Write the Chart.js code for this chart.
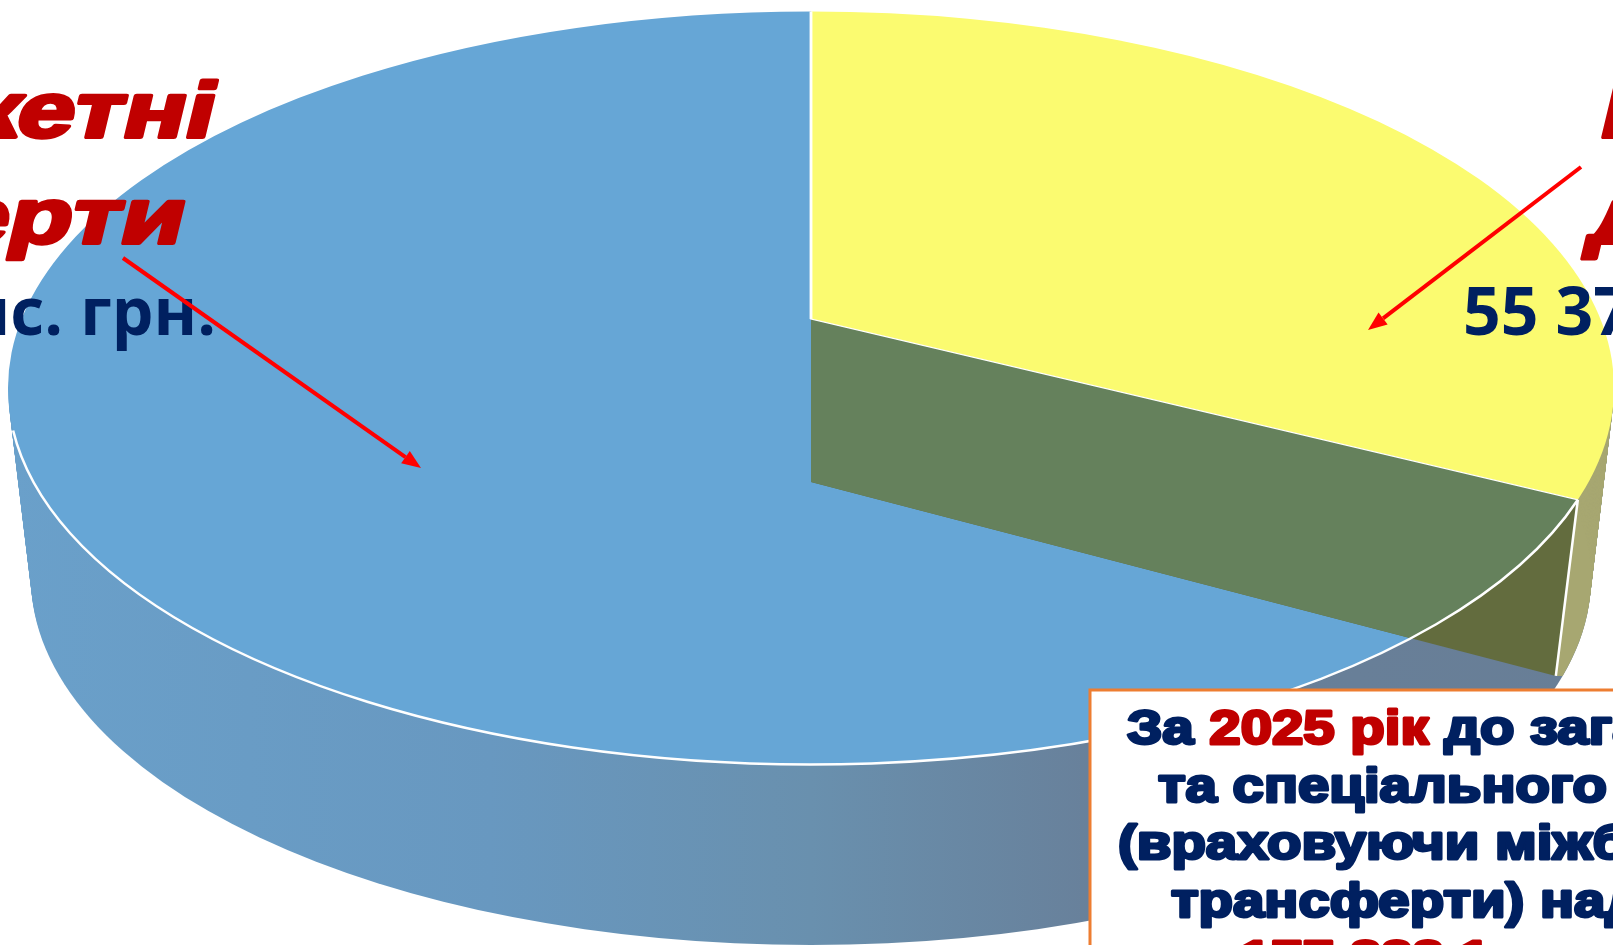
<!DOCTYPE html>
<html>
<head>
<meta charset="utf-8">
<style>
  html, body { margin: 0; padding: 0; background: #fff; overflow: hidden; }
  canvas { display: block; }
</style>
<script src="https://cdn.jsdelivr.net/npm/chart.js@4"></script>
</head>
<body>
<canvas id="pieChart" width="1613" height="945"></canvas>
<script>
// values (thousand UAH)
const sliceLabels = ['Власні доходи', 'Міжбюджетні трансферти'];
const sliceValues = [55378.0, 122510.1];
const sliceColors = ['#FBFB70', '#66A6D6'];

const blueLabelLines = ['Міжбюджетні', 'трансферти'];
const blueAmount = '122 510,1 тис. грн.';
const yellowLabelLines = ['Власні', 'доходи'];
const yellowAmount = '55 378,0 тис. грн.';
const boxLines = [
    [['За ', 'navy'], ['2025 рік', 'red'], [' до загального', 'navy']],
    [['та спеціального фондів', 'navy']],
    [['(враховуючи міжбюджетні', 'navy']],
    [['трансферти) надійшло', 'navy']],
    [['177 888,1', 'red'], [' тис. грн.', 'navy']]
];
const boxLineStarts = [1127, 1158, 1118, 1171, 1240];

const NAVY = '#002060';
const RED = '#C00000';

// the "3d" look: top face, bottom face, and where the wedge tips sit
const topFace = { x: 811, y: 388, rx: 803, ry: 376.5 };
const bottomFace = { x: 811, y: 578, rx: 780, ry: 367 };
const topApex = { x: 811, y: 319 };
const lowerApex = { x: 811, y: 482 };

function facePoint(face, angle) {
    return { x: face.x + face.rx * Math.cos(angle), y: face.y + face.ry * Math.sin(angle) };
}

function facePath(ctx, face) {
    ctx.beginPath();
    ctx.ellipse(face.x, face.y, face.rx, face.ry, 0, 0, Math.PI * 2);
}

function polyPath(ctx, pts) {
    ctx.beginPath();
    pts.forEach(function (p, i) {
        if (i === 0) ctx.moveTo(p.x, p.y); else ctx.lineTo(p.x, p.y);
    });
    ctx.closePath();
}

// starts a little below the top face so its colour does not fringe the rim
function fillHull(ctx, fill) {
    ctx.fillStyle = fill;
    for (let i = 2; i <= 80; i++) {
        const t = i / 80;
        facePath(ctx, {
            x: topFace.x,
            y: topFace.y + (bottomFace.y - topFace.y) * t,
            rx: topFace.rx + (bottomFace.rx - topFace.rx) * t,
            ry: topFace.ry + (bottomFace.ry - topFace.ry) * t
        });
        ctx.fill();
    }
}

function drawLabel(ctx, text, x, y, font, color, align, stretch, strokeWidth, slant) {
    ctx.save();
    ctx.translate(x, y);
    ctx.transform(stretch, 0, -(slant || 0), 1, 0, 0);
    ctx.font = font;
    ctx.textAlign = align;
    ctx.textBaseline = 'alphabetic';
    ctx.lineJoin = 'round';
    if (strokeWidth) {
        ctx.strokeStyle = color;
        ctx.lineWidth = strokeWidth;
        ctx.strokeText(text, 0, 0);
    }
    ctx.fillStyle = color;
    ctx.fillText(text, 0, 0);
    ctx.restore();
}

function drawArrow(ctx, x1, y1, x2, y2) {
    const angle = Math.atan2(y2 - y1, x2 - x1);
    const headLen = 19, headHalf = 7.5;
    const bx = x2 - headLen * Math.cos(angle), by = y2 - headLen * Math.sin(angle);
    ctx.strokeStyle = '#FF0000';
    ctx.lineWidth = 4;
    ctx.beginPath();
    ctx.moveTo(x1, y1);
    ctx.lineTo(bx, by);
    ctx.stroke();
    ctx.fillStyle = '#FF0000';
    ctx.beginPath();
    ctx.moveTo(x2, y2);
    ctx.lineTo(bx - headHalf * Math.sin(angle), by + headHalf * Math.cos(angle));
    ctx.lineTo(bx + headHalf * Math.sin(angle), by - headHalf * Math.cos(angle));
    ctx.closePath();
    ctx.fill();
}

const piePainter = {
    id: 'piePainter',
    beforeDatasetsDraw(chart) {
        const ctx = chart.ctx;
        const arcs = chart.getDatasetMeta(0).data;
        const yellowArc = arcs[0], blueArc = arcs[1];

        // the rim points follow the slice size, shifted a bit for the perspective
        const rimAngle = yellowArc.endAngle - 4.8 * Math.PI / 180;
        const rim = facePoint(topFace, rimAngle);
        const lowerRim = facePoint(bottomFace, rimAngle);
        lowerRim.y -= 11;

        // side wall
        ctx.save();
        const wall = ctx.createLinearGradient(topFace.x - topFace.rx, 0, topFace.x + topFace.rx, 0);
        wall.addColorStop(0, '#6AA0CA');
        wall.addColorStop(0.3, '#6898C0');
        wall.addColorStop(0.5, '#6990AE');
        wall.addColorStop(0.68, '#68809A');
        wall.addColorStop(1, '#687E96');
        fillHull(ctx, wall);
        ctx.restore();

        // outer wall of the yellow slice
        ctx.save();
        polyPath(ctx, [rim, lowerRim, { x: 1700, y: lowerRim.y }, { x: 1700, y: 200 }, { x: rim.x, y: 200 }]);
        ctx.clip();
        fillHull(ctx, '#A7A771');
        ctx.restore();

        // blue top face
        ctx.save();
        ctx.translate(topFace.x, topFace.y);
        ctx.scale(topFace.rx / blueArc.outerRadius, topFace.ry / blueArc.outerRadius);
        ctx.translate(-blueArc.x, -blueArc.y);
        blueArc.draw(ctx);
        ctx.restore();

        // inner face of the yellow slice, seen through the blue
        const innerFace = [topApex, rim, lowerRim, lowerApex];
        ctx.fillStyle = '#636C3E';
        polyPath(ctx, innerFace);
        ctx.fill();
        ctx.save();
        facePath(ctx, topFace);
        ctx.clip();
        ctx.fillStyle = '#65815C';
        polyPath(ctx, innerFace);
        ctx.fill();
        ctx.restore();

        // yellow top face: sector stretched from its own tip, cut to the top ellipse
        ctx.save();
        facePath(ctx, topFace);
        ctx.clip();
        const K = 1.25;
        const R = yellowArc.outerRadius;
        const sx = Math.cos(yellowArc.startAngle), sy = Math.sin(yellowArc.startAngle);
        const ex = Math.cos(yellowArc.endAngle), ey = Math.sin(yellowArc.endAngle);
        const psx = 0, psy = K * (topFace.y - topFace.ry - topApex.y);
        const pex = K * (rim.x - topApex.x), pey = K * (rim.y - topApex.y);
        const det = (sx * ey - ex * sy) * R;
        ctx.translate(topApex.x, topApex.y);
        ctx.transform(
            (psx * ey - pex * sy) / det, (psy * ey - pey * sy) / det,
            (pex * sx - psx * ex) / det, (pey * sx - psy * ex) / det,
            0, 0
        );
        ctx.translate(-yellowArc.x, -yellowArc.y);
        yellowArc.draw(ctx);
        ctx.restore();

        // white edges
        ctx.strokeStyle = '#FFFFFF';
        ctx.lineWidth = 2.5;
        ctx.beginPath();
        ctx.ellipse(topFace.x, topFace.y, topFace.rx, topFace.ry, 0, rimAngle, Math.PI * 0.964);
        ctx.stroke();
        ctx.beginPath();
        ctx.moveTo(rim.x, rim.y);
        ctx.lineTo(lowerRim.x, lowerRim.y);
        ctx.stroke();

        // labels: upright bold sheared, the italic font has cursive cyrillic
        const redFont = 'bold 78px "Liberation Sans"';
        const amountFont = 'bold 66px "Open Sans"';
        drawLabel(ctx, blueLabelLines[0], 210, 137, redFont, RED, 'right', 1.32, 4, 0.24);
        drawLabel(ctx, blueLabelLines[1], 180, 243, redFont, RED, 'right', 1.32, 4, 0.24);
        drawLabel(ctx, blueAmount, 216, 335, amountFont, NAVY, 'right', 1, 0);
        drawLabel(ctx, yellowLabelLines[0], 1597, 137, redFont, RED, 'left', 1.32, 4, 0.24);
        drawLabel(ctx, yellowLabelLines[1], 1586, 243, redFont, RED, 'left', 1.32, 4, 0.24);
        drawLabel(ctx, yellowAmount, 1463, 335, amountFont, NAVY, 'left', 1, 0);

        // note box
        ctx.fillStyle = '#FFFFFF';
        ctx.strokeStyle = '#ED7D31';
        ctx.lineWidth = 3;
        ctx.fillRect(1090, 690, 600, 400);
        ctx.strokeRect(1090, 690, 600, 400);
        const boxFont = 'bold 49px "Liberation Sans"';
        const boxStretch = 1.15;
        boxLines.forEach(function (parts, row) {
            let x = boxLineStarts[row];
            const y = 744 + row * 57.5;
            parts.forEach(function (part) {
                drawLabel(ctx, part[0], x, y, boxFont, part[1] === 'red' ? RED : NAVY, 'left', boxStretch, 3);
                ctx.font = boxFont;
                x += ctx.measureText(part[0]).width * boxStretch;
            });
        });

        // arrows
        drawArrow(ctx, 123, 258, 421, 468);
        drawArrow(ctx, 1581, 167, 1368, 330);

        return false;
    }
};

new Chart(document.getElementById('pieChart'), {
    type: 'pie',
    data: {
        labels: sliceLabels,
        datasets: [{
            data: sliceValues,
            backgroundColor: sliceColors,
            borderColor: '#FFFFFF',
            borderWidth: [1.3, 0]
        }]
    },
    options: {
        responsive: false,
        animation: false,
        layout: { padding: 0 },
        plugins: {
            legend: { display: false },
            tooltip: { enabled: false }
        }
    },
    plugins: [piePainter]
});
</script>
</body>
</html>
